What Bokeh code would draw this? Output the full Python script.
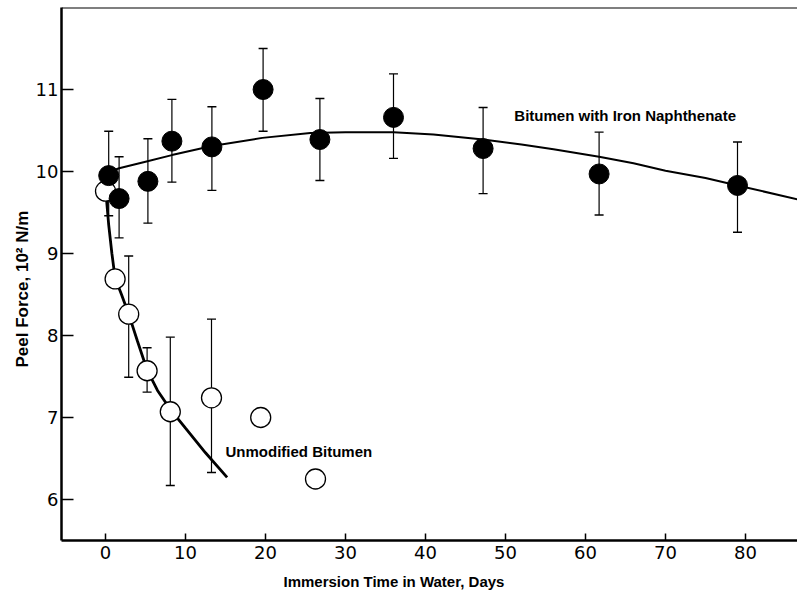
import math
from bokeh.plotting import figure
from bokeh.models import (ColumnDataSource, Whisker, TeeHead, Span, Label,
                          FixedTicker, Range1d, Title)
from bokeh.embed import file_html
from bokeh.resources import INLINE

# ---------------- data ----------------
x_ticks = [0, 10, 20, 30, 40, 50, 60, 70, 80]
y_ticks = [6, 7, 8, 9, 10, 11]

# Bitumen with Iron Naphthenate (filled circles)
iron_days = [0.4, 1.7, 5.3, 8.3, 13.3, 19.7, 26.8, 36.0, 47.2, 61.7, 79.0]
iron_force = [9.95, 9.67, 9.88, 10.37, 10.30, 11.0, 10.39, 10.66, 10.28, 9.97, 9.83]
iron_upper = [10.49, 10.18, 10.40, 10.88, 10.79, 11.50, 10.89, 11.19, 10.78, 10.48, 10.36]
iron_lower = [9.46, 9.19, 9.37, 9.87, 9.77, 10.49, 9.89, 10.16, 9.73, 9.47, 9.26]

# fitted curve for iron naphthenate
iron_fit_days = [0.6, 1.7, 5.0, 8.3, 13.3, 19.6, 25.6, 30.0, 36.0, 41.0, 47.2,
                 52.0, 56.0, 61.7, 66.0, 70.0, 75.0, 79.0, 86.5]
iron_fit_force = [10.00, 10.04, 10.12, 10.20, 10.31, 10.41, 10.47, 10.48, 10.48,
                  10.45, 10.39, 10.33, 10.27, 10.18, 10.10, 10.01, 9.92, 9.83, 9.66]

# Unmodified Bitumen (open circles)
unmod_days = [0.0, 1.2, 2.9, 5.2, 8.1, 13.25, 19.4, 26.25]
unmod_force = [9.76, 8.69, 8.26, 7.57, 7.07, 7.24, 7.00, 6.25]
unmod_err_days = [2.9, 5.2, 8.1, 13.25]
unmod_err_upper = [8.97, 7.85, 7.98, 8.20]
unmod_err_lower = [7.49, 7.31, 6.17, 6.33]

# fitted curve for unmodified bitumen
unmod_fit_days = [0.0, 0.4, 0.8, 1.2, 2.0, 2.9, 4.0, 5.2, 6.5, 8.1, 10.0, 12.5, 15.2]
unmod_fit_force = [9.80, 9.35, 9.00, 8.70, 8.50, 8.26, 7.93, 7.58, 7.33, 7.10,
                   6.87, 6.57, 6.27]

x_title = "Immersion Time in Water, Days"
y_title = "Peel Force, 10\u00b2 N/m"
iron_label = "Bitumen with Iron Naphthenate"
unmod_label = "Unmodified Bitumen"

X_MIN, X_MAX = -5.5, 86.5
Y_MIN, Y_MAX = 5.5, 12.0

# ---------------- figure ----------------
p = figure(width=797, height=600,
           x_range=Range1d(X_MIN, X_MAX), y_range=Range1d(Y_MIN, Y_MAX),
           output_backend="svg", toolbar_location=None,
           min_border_left=61, min_border_right=0,
           min_border_top=7, min_border_bottom=60)
p.grid.visible = False
p.outline_line_color = None
p.background_fill_color = "white"
p.border_fill_color = "white"

for ax, ticks, tick_in, stand in ((p.xaxis[0], x_ticks, 7, 5),
                                  (p.yaxis[0], y_ticks, 12, 3)):
    ax.ticker = FixedTicker(ticks=ticks)
    ax.major_tick_in = tick_in
    ax.major_tick_out = 0
    ax.minor_tick_line_color = None
    ax.axis_line_width = 2.5
    ax.axis_line_color = "black"
    ax.major_tick_line_width = 1.5
    ax.major_tick_line_color = "black"
    ax.major_label_text_font = "DejaVu Sans"
    ax.major_label_text_font_size = "18px"
    ax.major_label_text_color = "black"
    ax.major_label_standoff = stand

# top border line
p.add_layout(Span(location=Y_MAX, dimension="width", line_color="black",
                  line_width=2))

# error bars
iron_src = ColumnDataSource(dict(x=iron_days, y=iron_force,
                                 upper=iron_upper, lower=iron_lower))
unmod_err_src = ColumnDataSource(dict(x=unmod_err_days, upper=unmod_err_upper,
                                      lower=unmod_err_lower))
for src in (unmod_err_src, iron_src):
    p.add_layout(Whisker(base="x", upper="upper", lower="lower", source=src,
                         line_color="black", line_width=1.2,
                         upper_head=TeeHead(size=9, line_width=1.4, line_color="black"),
                         lower_head=TeeHead(size=9, line_width=1.4, line_color="black")))

# fitted curves
p.line(unmod_fit_days, unmod_fit_force, line_color="black", line_width=2.8)
p.line(iron_fit_days, iron_fit_force, line_color="black", line_width=2.0)

# points
p.scatter(unmod_days, unmod_force, marker="circle", size=20,
          fill_color="white", line_color="black", line_width=1.3)
p.scatter("x", "y", source=iron_src, marker="circle", size=20,
          fill_color="black", line_color="black")

# annotations
lab_font = "Liberation Sans"
p.add_layout(Label(x=51.1, y=10.68, text=iron_label, text_align="left",
                   text_baseline="middle", text_font=lab_font,
                   text_font_style="bold", text_font_size="15px",
                   text_color="black"))
p.add_layout(Label(x=15.0, y=6.59, text=unmod_label, text_align="left",
                   text_baseline="middle", text_font=lab_font,
                   text_font_style="bold", text_font_size="15px",
                   text_color="black"))

# axis titles (as offset titles so they sit where the original has them)
p.add_layout(Title(text=x_title, align="left", offset=222, standoff=18,
                   text_font=lab_font, text_font_style="bold",
                   text_font_size="15px", text_color="black"), "below")
p.add_layout(Title(text=y_title, align="left", offset=173, standoff=2,
                   text_font=lab_font, text_font_style="bold",
                   text_font_size="17px", text_color="black"), "left")

open("out.html", "w").write(file_html(p, INLINE))
